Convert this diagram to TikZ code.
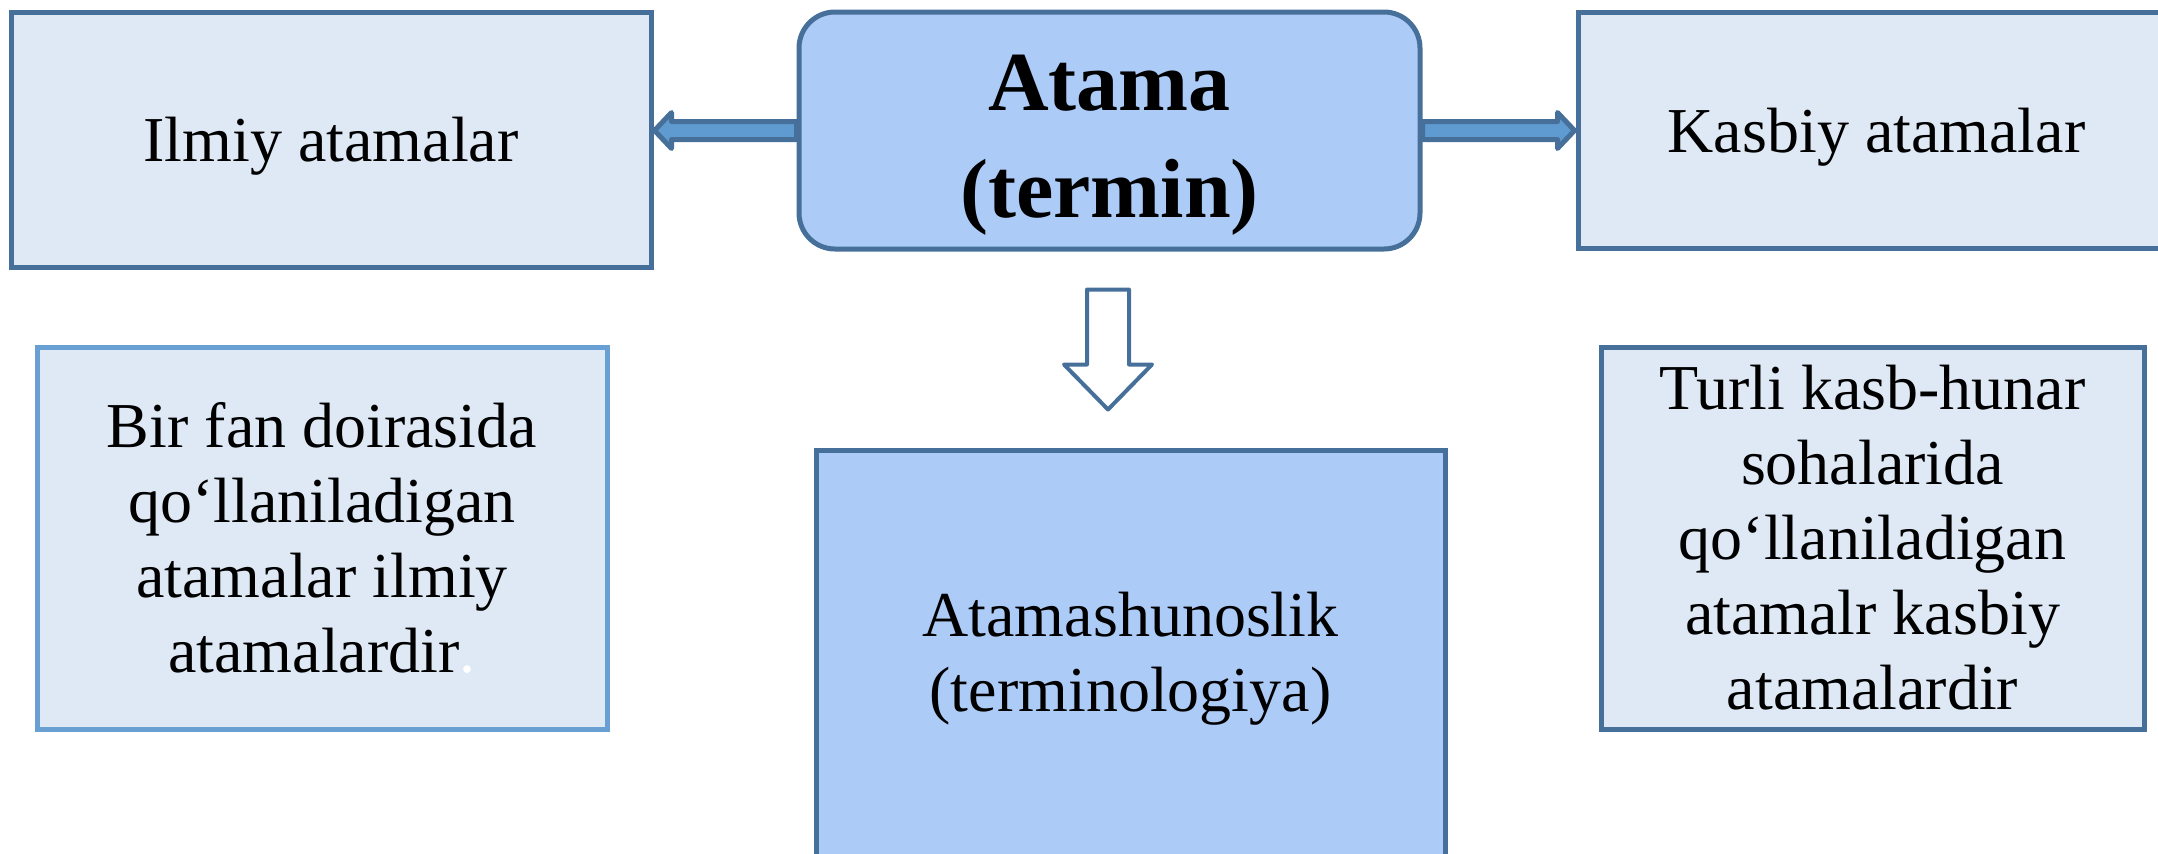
\documentclass[tikz,border=0pt]{standalone}
\usepackage{fontspec}
\setmainfont{Liberation Serif}
\usetikzlibrary{calc}
\definecolor{edge}{RGB}{70,112,154}
\definecolor{lightedge}{RGB}{104,160,212}
\definecolor{pale}{RGB}{222,233,245}
\definecolor{mid}{RGB}{173,203,247}
\definecolor{arrowfill}{RGB}{95,155,208}
\tikzset{
  box/.style={draw=edge, line width=2.5pt, fill=pale, align=center, inner sep=0pt,
    font=\fontsize{32}{37.5}\selectfont},
  boldtext/.style={align=center, inner sep=0pt, font=\fontsize{42}{52.5}\selectfont\bfseries},
  fatarrow/.style={draw=edge, line width=2.5pt, fill=arrowfill, line join=round},
  hollowarrow/.style={draw=edge, line width=2pt, fill=white, line join=round},
}
\begin{document}
\begin{tikzpicture}[x=0.5pt, y=-0.5pt]
\useasboundingbox (0,0) rectangle (2158,853);
\begin{scope}
\clip (0,0) rectangle (2158,853);
\node[box, text depth=0pt, minimum width=320pt, minimum height=127.5pt] (ilmiy) at (331,139.5) {Ilmiy atamalar};
\node[box, fill=mid, rounded corners=18pt, minimum width=310.5pt, minimum height=118.5pt] (atama) at (1109.5,130.5) {};
\node[boldtext] (atamatxt) at ($(atama.center)+(0,-7.5pt)$) {Atama\\[1pt](termin)};
\node[box, text depth=0pt, minimum width=298.5pt, minimum height=118pt] (kasbiy) at (1876.5,130) {Kasbiy atamalar};
\node[box, draw=lightedge, minimum width=285pt, minimum height=191pt] (ilmiyd) at (322,538)
  {Bir fan doirasida\\qo‘llaniladigan\\atamalar ilmiy\\atamalardir\textcolor{white}{.}};
\node[box, fill=mid, minimum width=314.5pt, minimum height=209pt] (term) at (1130.5,659)
  {Atamashunoslik\\(terminologiya)};
\node[box, minimum width=271.5pt, minimum height=191pt] (kasbiyd) at (1872.5,538)
  {Turli kasb-hunar\\sohalarida\\qo‘llaniladigan\\atamalr kasbiy\\atamalardir};

% left fat arrow
\draw[fatarrow] ($(atama.west)+(0,4.5pt)$) -- ($(ilmiy.east |- atama.west)+(9pt,4.5pt)$)
  -- ($(ilmiy.east |- atama.west)+(9pt,9pt)$) -- ($(ilmiy.east |- atama.west)+(0.5pt,0)$)
  -- ($(ilmiy.east |- atama.west)+(9pt,-9pt)$) -- ($(ilmiy.east |- atama.west)+(9pt,-4.5pt)$)
  -- ($(atama.west)+(0,-4.5pt)$) -- cycle;
% right fat arrow
\draw[fatarrow] ($(atama.east)+(0,4.5pt)$) -- ($(kasbiy.west |- atama.east)+(-9pt,4.5pt)$)
  -- ($(kasbiy.west |- atama.east)+(-9pt,9pt)$) -- ($(kasbiy.west |- atama.east)+(-0.5pt,0)$)
  -- ($(kasbiy.west |- atama.east)+(-9pt,-9pt)$) -- ($(kasbiy.west |- atama.east)+(-9pt,-4.5pt)$)
  -- ($(atama.east)+(0,-4.5pt)$) -- cycle;
% hollow down arrow
\coordinate (dtop) at ($(atama.south)+(-0.75pt,-19pt)$);
\coordinate (dtip) at ($(dtop)+(0,-60pt)$);
\draw[hollowarrow] ($(dtop)+(-10.5pt,0)$) -- ($(dtop)+(10.5pt,0)$)
  -- ($(dtop)+(10.5pt,-37.5pt)$) -- ($(dtop)+(22pt,-37.5pt)$) -- (dtip)
  -- ($(dtop)+(-22pt,-37.5pt)$) -- ($(dtop)+(-10.5pt,-37.5pt)$) -- cycle;
\end{scope}
\end{tikzpicture}
\end{document}
